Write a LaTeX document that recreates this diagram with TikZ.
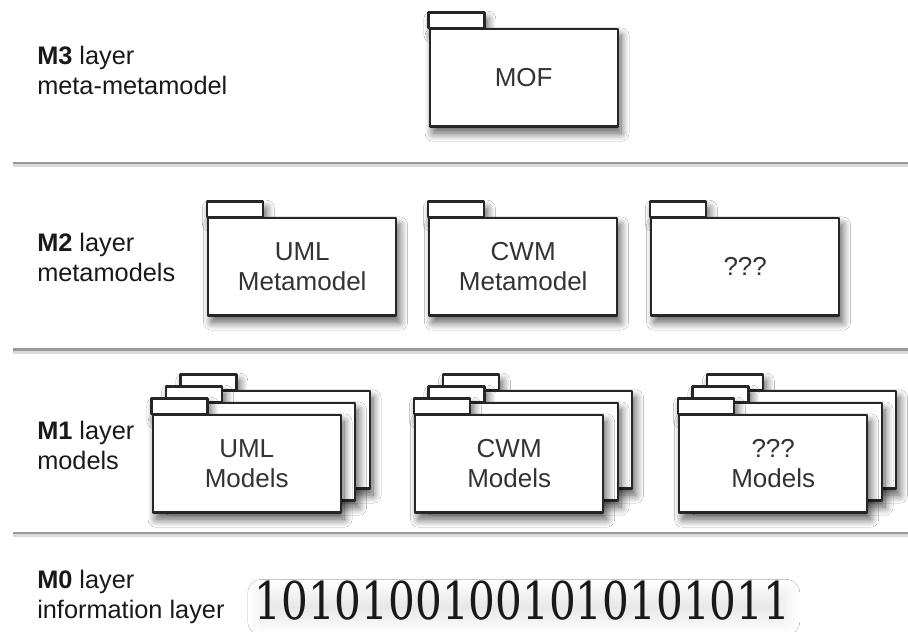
\documentclass[tikz,border=0pt]{standalone}
\usepackage{fontspec}
\setmainfont{Liberation Sans}
\newfontfamily\digitfont{DejaVu Serif}
\usetikzlibrary{shadows.blur}

% folder = tab + body, body named #1, left edge #2, body top #3
\newcommand\umlfolder[4]{%
  \draw[foldertab] (#2,#3) rectangle ++(56,-15.5);
  \node[folderbody] (#1) at (#2,#3) {#4};
}
% a stack of three folders, the front one carries the text
\newcommand\umlstack[4]{%
  \umlfolder{#1-back}{#2+29}{#3-24}{}
  \umlfolder{#1-mid}{#2+14.5}{#3-12}{}
  \umlfolder{#1}{#2}{#3}{#4}
}

\tikzset{
  edge/.style={draw=black!85, line width=1.8pt, line join=round},
  softshadow/.style={blur shadow={shadow xshift=2.5pt, shadow yshift=-5pt,
      shadow blur radius=6pt, shadow blur steps=14, shadow opacity=65}},
  foldertab/.style={edge, fill=white, softshadow},
  folderbody/.style={edge, fill=white, softshadow, anchor=north west,
      minimum width=141pt, minimum height=73pt, inner sep=0pt,
      align=center, text=black!80,
      font=\fontsize{19.5}{22.5}\selectfont},
  layerlabel/.style={anchor=west, align=left, inner sep=0pt, text=black!90,
      font=\fontsize{19}{22.5}\selectfont},
  separator/.style={draw=black!40, line width=1.6pt},
  bitstring/.style={inner sep=-4pt, text=black!90,
      font=\digitfont\fontsize{39}{39}\selectfont,
      blur shadow={shadow xshift=1pt, shadow yshift=-5pt,
        shadow blur radius=10pt, shadow blur steps=16, shadow opacity=9}},
}

\begin{document}
\begin{tikzpicture}[x=0.75pt, y=-0.75pt]
  \useasboundingbox[fill=white] (0,0) rectangle (908,632);

  % layer separators
  \foreach \yy in {163, 349.5, 533} {
    \draw[draw=black!15, line width=2.5pt] (13,\yy+2.5) -- (908,\yy+2.5);
    \draw[separator] (13,\yy) -- (908,\yy);
  }

  % layer captions
  \node[layerlabel] (m3) at (37,70)    {\textbf{M3} layer\\meta-metamodel};
  \node[layerlabel] (m2) at (37,257.5) {\textbf{M2} layer\\metamodels};
  \node[layerlabel] (m1) at (37,445.5) {\textbf{M1} layer\\models};
  \node[layerlabel] (m0) at (37,597)   {\textbf{M0} layer\\information layer};

  % M3
  \umlfolder{mof}{428.5}{28}{MOF}

  % M2
  \umlfolder{umlmeta}{207}{217}{UML\\Metamodel}
  \umlfolder{cwmmeta}{428}{217}{CWM\\Metamodel}
  \umlfolder{othermeta}{650}{217}{???}

  % M1
  \umlstack{umlmodels}{151.5}{414}{UML\\Models}
  \umlstack{cwmmodels}{414}{414}{CWM\\Models}
  \umlstack{othermodels}{678}{414}{???\\Models}

  % M0: the raw data
  \node[bitstring] (bits) at (522.5,600.5)
    {\scalebox{0.81}[1]{10101001001010101011}};
\end{tikzpicture}
\end{document}
